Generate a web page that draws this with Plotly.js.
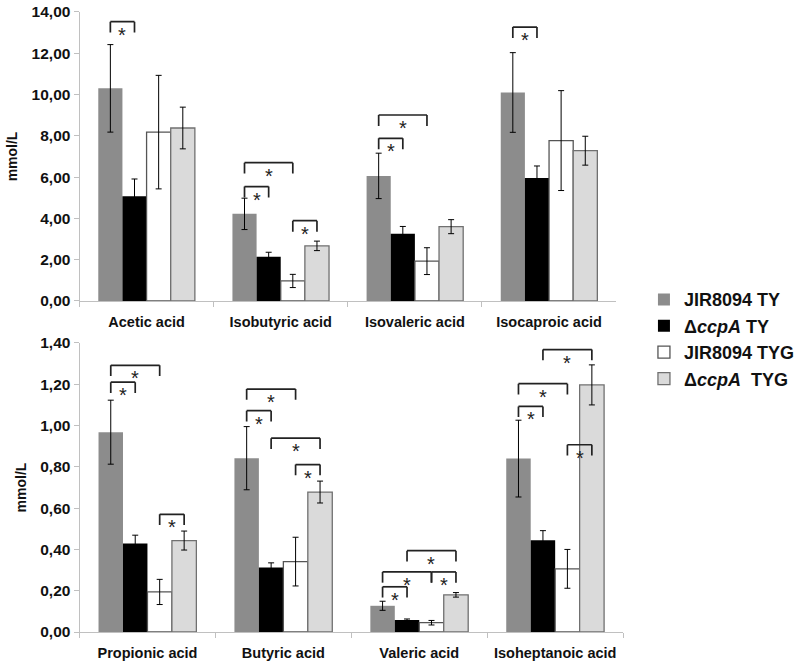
<!DOCTYPE html>
<html>
<head>
<meta charset="utf-8">
<script src="https://cdn.plot.ly/plotly-3.0.1.min.js"></script>
<style>html,body{margin:0;padding:0;background:#fff;}#chart{width:800px;height:669px;}</style>
</head>
<body>
<div id="chart"></div>
<script>
// ---------- data ----------
const catsTop = ['Acetic acid', 'Isobutyric acid', 'Isovaleric acid', 'Isocaproic acid'];
const catsBot = ['Propionic acid', 'Butyric acid', 'Valeric acid', 'Isoheptanoic acid'];
const seriesNames = ['JIR8094 TY', 'Δ<i>ccpA</i> TY', 'JIR8094 TYG', 'Δ<i>ccpA</i>\u00a0 TYG'];

const wtTY_top      = [10.30, 4.22, 6.06, 10.10];
const wtTY_top_err  = [2.12, 0.76, 1.10, 1.93];
const ccpTY_top     = [5.07, 2.14, 3.26, 5.96];
const ccpTY_top_err = [0.84, 0.22, 0.35, 0.58];
const wtTYG_top     = [8.18, 0.97, 1.93, 7.77];
const wtTYG_top_err = [2.75, 0.32, 0.65, 2.42];
const ccpTYG_top    = [8.38, 2.67, 3.60, 7.28];
const ccpTYG_top_err= [1.01, 0.23, 0.34, 0.70];

const wtTY_bot      = [0.968, 0.842, 0.127, 0.840];
const wtTY_bot_err  = [0.155, 0.153, 0.022, 0.186];
const ccpTY_bot     = [0.429, 0.313, 0.058, 0.444];
const ccpTY_bot_err = [0.040, 0.022, 0.005, 0.047];
const wtTYG_bot     = [0.194, 0.341, 0.045, 0.306];
const wtTYG_bot_err = [0.061, 0.118, 0.011, 0.094];
const ccpTYG_bot    = [0.443, 0.678, 0.180, 1.197];
const ccpTYG_bot_err= [0.046, 0.053, 0.011, 0.097];

// significance brackets: category index, from-series, to-series, bracket height (value)
const brTopCat  = [0, 1, 1, 1, 2, 2, 3];
const brTopFrom = [0, 0, 0, 2, 0, 0, 0];
const brTopTo   = [1, 2, 1, 3, 2, 1, 1];
const brTopY    = [13.53, 6.70, 5.54, 3.89, 9.01, 7.88, 13.27];

const brBotCat  = [0, 0, 0, 1, 1, 1, 1, 2, 2, 2, 2, 3, 3, 3, 3];
const brBotFrom = [0, 0, 2, 0, 0, 1, 2, 1, 0, 2, 0, 1, 0, 0, 2];
const brBotTo   = [2, 1, 3, 2, 1, 3, 3, 3, 2, 3, 1, 3, 2, 1, 3];
const brBotY    = [1.292, 1.21, 0.57, 1.177, 1.072, 0.939, 0.811, 0.394, 0.291, 0.291, 0.219, 1.368, 1.203, 1.093, 0.907];

// ---------- styles ----------
const FONT = 'Liberation Sans, Arial, sans-serif';
const fills = ['#8c8c8c', '#000000', '#ffffff', '#dadada'];
const borders = ['#8c8c8c', '#000000', '#555555', '#707070'];
const borderW = [0, 0, 1.3, 1.3];
const BARGAP = 0.28;

const topVals = [wtTY_top, ccpTY_top, wtTYG_top, ccpTYG_top];
const topErrs = [wtTY_top_err, ccpTY_top_err, wtTYG_top_err, ccpTYG_top_err];
const botVals = [wtTY_bot, ccpTY_bot, wtTYG_bot, ccpTYG_bot];
const botErrs = [wtTY_bot_err, ccpTY_bot_err, wtTYG_bot_err, ccpTYG_bot_err];

const traces = [];
function addPanel(cats, vals, errs, xa, ya, showLeg) {
  for (let i = 0; i < 4; i++) {
    traces.push({
      type: 'bar', x: cats, y: vals[i], name: seriesNames[i],
      xaxis: xa, yaxis: ya, showlegend: showLeg, legendgroup: 's' + i,
      marker: {color: fills[i], line: {color: borders[i], width: borderW[i]}},
      error_y: {type: 'data', array: errs[i], visible: true, color: '#000', thickness: 1, width: 3},
      hoverinfo: 'skip'
    });
  }
}
addPanel(catsTop, topVals, topErrs, 'x', 'y', true);
addPanel(catsBot, botVals, botErrs, 'x2', 'y2', false);

const shapes = [];
const annotations = [];
const barW = (1 - BARGAP) / 4;
function barCenter(cat, s) { return cat + (s - 1.5) * barW; }
function addBrackets(cat, from, to, yTop, xref, yref, drop) {
  for (let k = 0; k < cat.length; k++) {
    const xa = barCenter(cat[k], from[k]);
    const xb = barCenter(cat[k], to[k]);
    const y = yTop[k];
    const ln = {color: '#222', width: 1.7};
    shapes.push({type: 'line', xref: xref, yref: yref, x0: xa, x1: xb, y0: y, y1: y, line: ln});
    shapes.push({type: 'line', xref: xref, yref: yref, x0: xa, x1: xa, y0: y, y1: y - drop, line: ln});
    shapes.push({type: 'line', xref: xref, yref: yref, x0: xb, x1: xb, y0: y, y1: y - drop, line: ln});
    annotations.push({xref: xref, yref: yref, x: (xa + xb) / 2, y: y, yanchor: 'top', yshift: 0,
      text: '*', showarrow: false, font: {family: FONT, size: 20, color: '#222'}});
  }
}
addBrackets(brTopCat, brTopFrom, brTopTo, brTopY, 'x', 'y', 0.53);
addBrackets(brBotCat, brBotFrom, brBotTo, brBotY, 'x2', 'y2', 0.052);

const axLine = '#c0c0c0';
function xAxis(domain, anchor) {
  return {domain: domain, anchor: anchor, type: 'category', range: [-0.5, 3.5],
    showline: true, linecolor: axLine, linewidth: 1, ticks: 'outside', tickson: 'boundaries',
    ticklen: 5, tickcolor: axLine, showgrid: false, zeroline: false, fixedrange: true,
    ticklabelstandoff: 8,
    tickfont: {family: FONT, size: 14.5, color: '#111', weight: 'bold'}};
}
function yAxis(domain, anchor, range, dtick) {
  return {domain: domain, anchor: anchor, range: range, dtick: dtick, tickformat: '.2f',
    showline: true, linecolor: axLine, linewidth: 1, ticks: 'outside', ticklen: 5, tickcolor: axLine,
    showgrid: false, zeroline: false, fixedrange: true,
    tickfont: {family: FONT, size: 15.5, color: '#111', weight: 'bold'},
    title: {text: 'mmol/L', standoff: 10, font: {family: FONT, size: 14, color: '#111', weight: 'bold'}}};
}

const layout = {
  width: 800, height: 669,
  margin: {l: 0, r: 0, t: 0, b: 0},
  paper_bgcolor: '#fff', plot_bgcolor: '#fff',
  separators: ', ',
  barmode: 'group', bargap: BARGAP, bargroupgap: 0,
  xaxis: xAxis([0.1, 0.775], 'y'),
  yaxis: yAxis([0.5501, 0.9821], 'x', [0, 14], 2),
  xaxis2: xAxis([0.1, 0.7838], 'y2'),
  yaxis2: yAxis([0.0553, 0.4873], 'x2', [0, 1.4], 0.2),
  showlegend: true,
  legend: {x: 0.81, y: 0.493, xanchor: 'left', yanchor: 'middle', bgcolor: 'rgba(0,0,0,0)',
    font: {family: FONT, size: 18, color: '#111', weight: 'bold'}, tracegroupgap: 0, itemwidth: 30},
  shapes: shapes,
  annotations: annotations
};

Plotly.newPlot('chart', traces, layout, {displayModeBar: false, staticPlot: true});
</script>
</body>
</html>
